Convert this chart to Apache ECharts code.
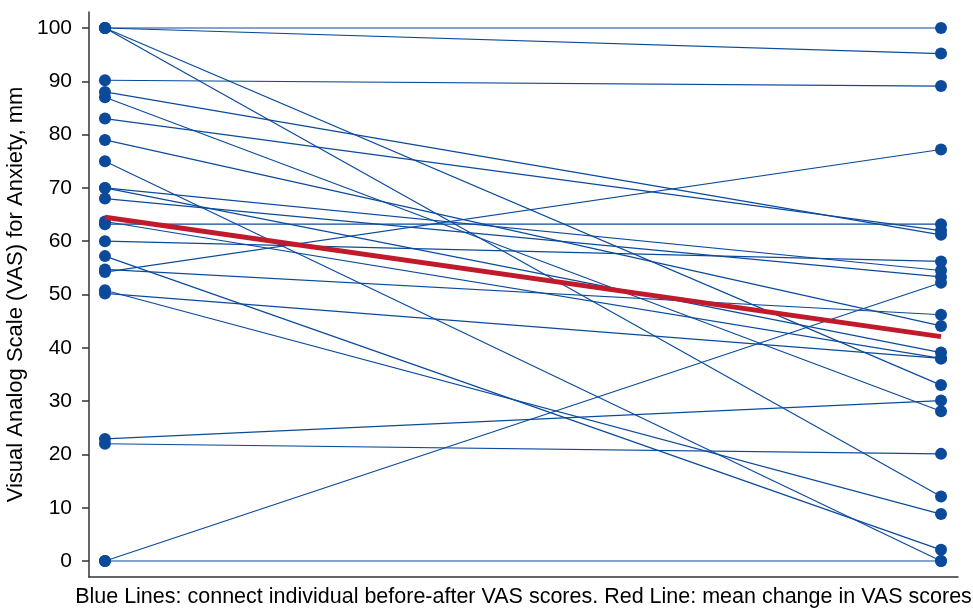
<!DOCTYPE html>
<html>
<head>
<meta charset="utf-8">
<script src="https://cdn.jsdelivr.net/npm/echarts@6/dist/echarts.min.js"></script>
<style>
html,body{margin:0;padding:0;background:#fff;}
#chart{width:973px;height:608px;}
</style>
</head>
<body>
<div id="chart"></div>
<script>
// Data
var beforeScores = [100, 100, 100, 100, 90.2, 88, 87, 83, 79, 75, 70, 70, 68, 63.7, 63.2, 60, 57.2, 54.7, 54.2, 50.8, 50.2, 22.9, 22, 0, 0];
var afterScores  = [100, 95.2, 33, 12.1, 89.1, 61.2, 28.1, 62, 44.1, 0, 54.5, 39.1, 53.3, 38, 63.2, 56.2, 2.1, 46.2, 77.2, 8.8, 38, 30.1, 20.1, 0, 52.2];
var meanScores   = [64.5, 42.1];
var timePoints   = [0, 1];
var yTickValues  = [0, 10, 20, 30, 40, 50, 60, 70, 80, 90, 100];

var blue = '#0b4a9b';
var red = '#c11b2b';
var font = 'Liberation Sans, Arial, sans-serif';

var series = [];
for (var i = 0; i < beforeScores.length; i++) {
  series.push({
    type: 'line',
    data: [[timePoints[0], beforeScores[i]], [timePoints[1], afterScores[i]]],
    symbol: 'circle',
    symbolSize: 12,
    showSymbol: true,
    lineStyle: { color: blue, width: 1.2 },
    itemStyle: { color: blue },
    z: 2,
    silent: true,
    animation: false
  });
}
series.push({
  type: 'line',
  data: [[timePoints[0], meanScores[0]], [timePoints[1], meanScores[1]]],
  symbol: 'none',
  lineStyle: { color: red, width: 5 },
  z: 5,
  silent: true,
  animation: false
});

var chart = echarts.init(document.getElementById('chart'), null, { renderer: 'canvas' });
chart.setOption({
  backgroundColor: '#fff',
  animation: false,
  textStyle: { fontFamily: font },
  grid: { left: 89, right: 15, top: 12, bottom: 31, containLabel: false, outerBoundsMode: 'none' },
  xAxis: {
    type: 'value',
    min: -0.0191,
    max: 1.0203,
    axisLine: { show: true, onZero: false, lineStyle: { color: '#333', width: 1.5 } },
    axisTick: { show: false },
    axisLabel: { show: false },
    splitLine: { show: false },
    name: 'Blue Lines: connect individual before-after VAS scores. Red Line: mean change in VAS scores',
    nameLocation: 'middle',
    nameGap: 9,
    nameTextStyle: { fontSize: 21.5, color: '#000', fontFamily: font }
  },
  yAxis: {
    type: 'value',
    min: -3,
    max: 103,
    axisLine: { show: true, onZero: false, lineStyle: { color: '#333', width: 1.5 } },
    axisTick: { show: true, length: 7, customValues: yTickValues, lineStyle: { color: '#333', width: 1.5 } },
    axisLabel: { show: true, customValues: yTickValues, margin: 17, fontSize: 21, color: '#000', fontFamily: font },
    splitLine: { show: false },
    name: 'Visual Analog Scale (VAS) for Anxiety, mm',
    nameLocation: 'middle',
    nameGap: 62,
    nameMoveOverlap: false,
    nameRotate: 90,
    nameTextStyle: { fontSize: 22, color: '#000', fontFamily: font }
  },
  series: series
});
</script>
</body>
</html>
